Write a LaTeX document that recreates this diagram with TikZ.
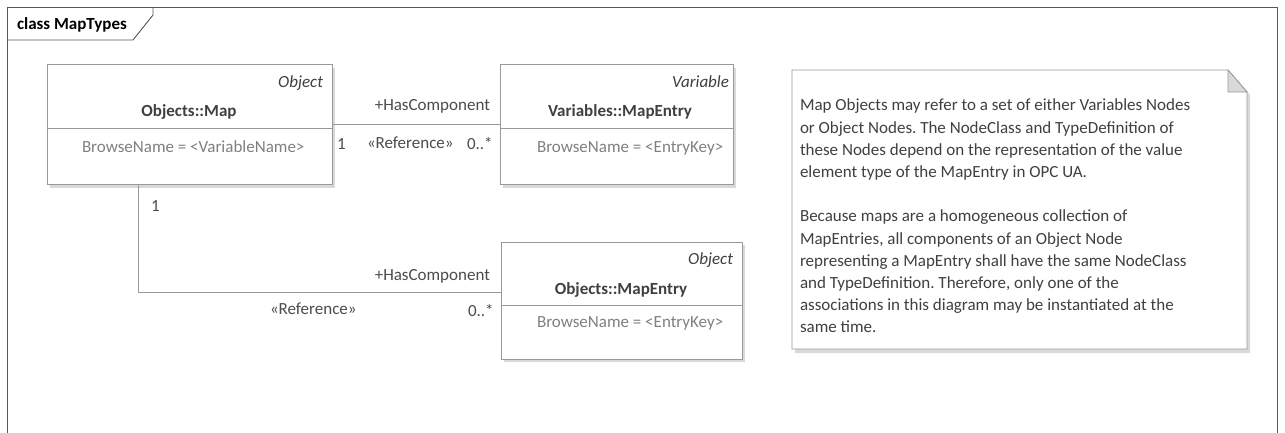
\documentclass[tikz,border=0pt]{standalone}
\usepackage{fontspec}
\setmainfont{Carlito}
\frenchspacing
\begin{document}
\begin{tikzpicture}[x=1pt,y=-1pt,
  every node/.style={inner sep=0pt, outer sep=0pt},
  txt/.style={font=\fontsize{17}{21}\selectfont, text=black!75},
  stereo/.style={txt, font=\fontsize{17}{21}\selectfont\itshape, anchor=base east},
  title/.style={txt, font=\fontsize{17}{21}\selectfont\bfseries, anchor=base, text=black!75},
  attr/.style={txt, anchor=base west, text=black!50},
  lbl/.style={txt, text=black!70},
  umlbox/.style={draw=black!40, fill=white, line width=0.8pt, minimum width=#1, rectangle},
  shadow/.style={fill=black!15, draw=none},
  conn/.style={draw=black!40, line width=0.8pt},
  frameline/.style={draw=black!65, line width=0.9pt}
]
\useasboundingbox (0,0) rectangle (1285,432);
\fill[white] (0,0) rectangle (1285,432);

% frame
\draw[frameline] (7,440) -- (7,7) -- (1277,7) -- (1277,440);
\draw[frameline] (7,40) -- (133,40) -- (153,15) -- (153,7);
\node[txt, font=\fontsize{17}{21}\selectfont\bfseries, anchor=base west, text=black] (ftitle) at (17,29) {class MapTypes};

% Objects::Map
\fill[shadow] (50,68) rectangle (335,188);
\node[umlbox=285pt, minimum height=120pt, anchor=north west] (map) at (47,64) {};
\draw[draw=black!40, line width=0.8pt] (47,128) -- (332,128);
\node[stereo] (mapst) at (323,87) {Object};
\node[title] (mapt) at (189,116) {Objects::Map};
\node[attr] (mapa) at (82,152) {BrowseName = <VariableName>};

% Variables::MapEntry
\fill[shadow] (503,68) rectangle (736,188);
\node[umlbox=233pt, minimum height=120pt, anchor=north west] (vme) at (500,64) {};
\draw[draw=black!40, line width=0.8pt] (500,128) -- (733,128);
\node[stereo] (vmest) at (729,87) {Variable};
\node[title] (vmet) at (620,116) {Variables::MapEntry};
\node[attr] (vmea) at (537,152) {BrowseName = <EntryKey>};

% Objects::MapEntry
\fill[shadow] (504,245) rectangle (745,362);
\node[umlbox=241pt, minimum height=117pt, anchor=north west] (ome) at (501,242) {};
\draw[draw=black!40, line width=0.8pt] (501,305) -- (742,305);
\node[stereo] (omest) at (733,264) {Object};
\node[title] (omet) at (621,294) {Objects::MapEntry};
\node[attr] (omea) at (537,327) {BrowseName = <EntryKey>};

% connectors
\draw[conn] (map.east) -- (vme.west);
\draw[conn] ([xshift=91pt]map.south west) |- ([yshift=8pt]ome.west);

% labels upper connector
\node[lbl, anchor=base east] (l1) at (490,110) {+HasComponent};
\node[lbl, anchor=base west] (l2) at (337,149) {1};
\node[lbl, anchor=base west] (l3) at (367,148) {«Reference»};
\node[lbl, anchor=base west] (l4) at (467,149) {0..*};

% labels lower connector
\node[lbl, anchor=base west] (l5) at (151,211) {1};
\node[lbl, anchor=base east] (l6) at (490,280) {+HasComponent};
\node[lbl, anchor=base west] (l7) at (270,314) {«Reference»};
\node[lbl, anchor=base west] (l8) at (468,316) {0..*};

% note
\fill[shadow] (795,74) -- (1232,74) -- (1250,95) -- (1250,353) -- (795,353) -- cycle;
\draw[draw=black!40, fill=white, line width=0.8pt] (792,70) -- (1228,70) -- (1247,92) -- (1247,349) -- (792,349) -- cycle;
\draw[draw=black!40, fill=black!15, line width=0.8pt] (1228,70) -- (1228,92) -- (1247,92) -- cycle;
\node[txt, anchor=north west, align=left, font=\fontsize{17}{22.2}\selectfont] (note) at (800,99) {Map Objects may refer to a set of either Variables Nodes\\
or Object Nodes. The NodeClass and TypeDefinition of\\
these Nodes depend on the representation of the value\\
element type of the MapEntry in OPC UA.\\[22.2pt]
Because maps are a homogeneous collection of\\
MapEntries, all components of an Object Node\\
representing a MapEntry shall have the same NodeClass\\
and TypeDefinition. Therefore, only one of the\\
associations in this diagram may be instantiated at the\\
same time.};
\end{tikzpicture}
\end{document}
